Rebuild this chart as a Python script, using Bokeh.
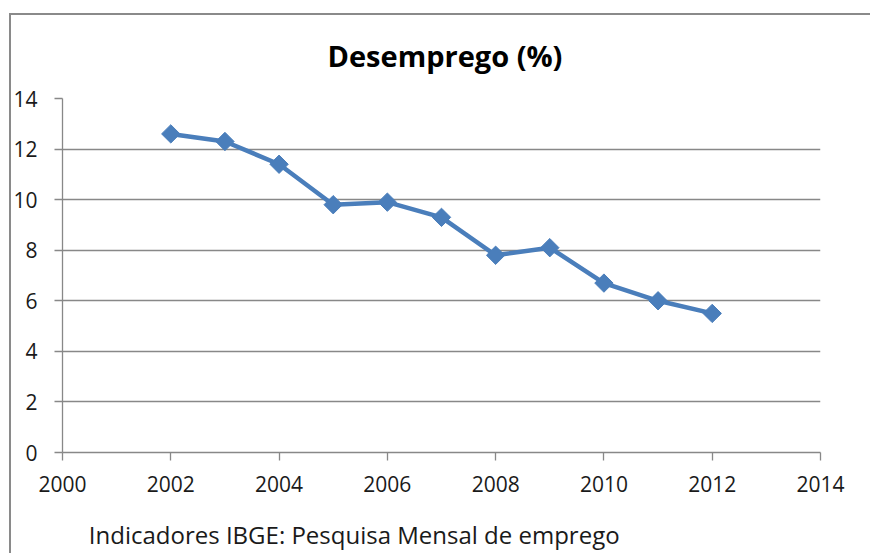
from bokeh.plotting import figure
from bokeh.models import FixedTicker, Range1d
from bokeh.embed import file_html
from bokeh.resources import INLINE
import math

years = [2002, 2003, 2004, 2005, 2006, 2007, 2008, 2009, 2010, 2011, 2012]
desemprego = [12.6, 12.3, 11.4, 9.8, 9.9, 9.3, 7.8, 8.1, 6.7, 6.0, 5.5]
x_ticks = [2000, 2002, 2004, 2006, 2008, 2010, 2012, 2014]
y_ticks = [0, 2, 4, 6, 8, 10, 12, 14]
title_text = "Desemprego (%)"
caption_text = "Indicadores IBGE: Pesquisa Mensal de emprego"

FONT = "Open Sans"
GRAY = "#888888"
BLUE = "#4A7EBB"
BOX = "#8a8a8a"

p = figure(width=870, height=553, output_backend="svg", toolbar_location=None,
           x_range=Range1d(2000, 2014), y_range=Range1d(0, 14),
           min_border_left=62, min_border_right=50, min_border_top=98, min_border_bottom=100)
p.outline_line_color = None
p.border_fill_color = None
p.background_fill_color = None
p.styles = {
    "background": (f"linear-gradient({BOX},{BOX}) 9px 13px / 2px 540px no-repeat, "
                   f"linear-gradient({BOX},{BOX}) 9px 13px / 861px 2px no-repeat"),
}

p.title.text = title_text
p.title.align = "left"
p.title.offset = 265
p.title.text_font = FONT
p.title.text_font_size = "29px"
p.title.text_font_style = "bold"
p.title.text_color = "#000000"
p.title.standoff = 48

p.xgrid.grid_line_color = None
p.ygrid.grid_line_color = GRAY
p.ygrid.grid_line_width = 1.3
p.ygrid.ticker = FixedTicker(ticks=y_ticks)

p.xaxis.ticker = FixedTicker(ticks=x_ticks)
p.yaxis.ticker = FixedTicker(ticks=y_ticks)
for ax in (p.xaxis, p.yaxis):
    ax.axis_line_color = GRAY
    ax.axis_line_width = 1.3
    ax.major_tick_line_color = GRAY
    ax.major_tick_line_width = 1.3
    ax.major_tick_out = 8
    ax.major_tick_in = 0
    ax.minor_tick_line_color = None
    ax.major_label_text_font = FONT
    ax.major_label_text_font_size = "21px"
    ax.major_label_text_color = "#1a1a1a"
p.yaxis.major_label_standoff = 17
p.xaxis.major_label_standoff = 15

# caption placed as the x axis label, shifted left of centre with trailing no-break spaces
p.xaxis.axis_label = caption_text + "\u00a0" * 28
p.xaxis.axis_label_align = "center"
p.xaxis.axis_label_standoff = 23
p.xaxis.axis_label_text_font = FONT
p.xaxis.axis_label_text_font_size = "24px"
p.xaxis.axis_label_text_font_style = "normal"
p.xaxis.axis_label_text_color = "#1a1a1a"

p.line(years, desemprego, line_color=BLUE, line_width=4.5)
p.scatter(years, desemprego, marker="square", size=13, angle=math.pi / 4,
          fill_color=BLUE, line_color=BLUE)

open("out.html", "w").write(file_html(p, INLINE))
